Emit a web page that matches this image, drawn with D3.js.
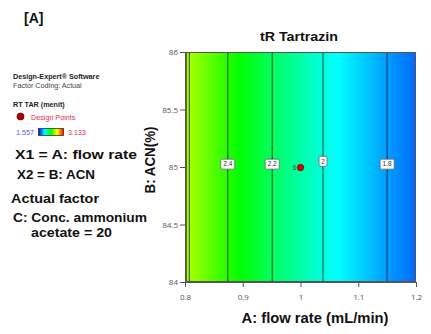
<!DOCTYPE html>
<html><head><meta charset="utf-8">
<script src="https://cdn.jsdelivr.net/npm/d3@7"></script>
<style>body{margin:0;background:#fff}svg{display:block}</style>
</head><body>
<svg id="c" width="431" height="334"></svg>
<script>
// ---- data ----
const xTicks = [0.8, 0.9, 1, 1.1, 1.2];
const yTicks = [84, 84.5, 85, 85.5, 86];
// response (RT, min) read along the flow-rate axis (independent of ACN)
const flowSamples = [0.8, 0.8075, 0.874, 0.951, 1.039, 1.15, 1.2];
const rtSamples   = [2.63, 2.6, 2.4, 2.2, 2.0, 1.8, 1.72];
// contour lines
const contourLevels = [2.6, 2.4, 2.2, 2.0, 1.8];
const contourX      = [0.8075, 0.874, 0.951, 1.039, 1.15];
const contourLabels = ["", "2.4", "2.2", "2", "1.8"];
const labelY        = [null, 85.025, 85.025, 85.05, 85.025];
// design point
const designX = [1.0], designY = [84.995], designCount = ["6"];
const rtMin = 1.557, rtMax = 3.133;

const svg = d3.select("#c");
const m = {l:185, r:416, t:52, b:282};
const x = d3.scaleLinear().domain([0.8, 1.2]).range([m.l, m.r]);
const y = d3.scaleLinear().domain([84, 86]).range([m.b, m.t]);
const col = d3.scaleLinear()
  .domain([rtMin, rtMin+(rtMax-rtMin)*0.25, rtMin+(rtMax-rtMin)*0.5, rtMin+(rtMax-rtMin)*0.75, rtMax])
  .range(["#0000ff", "#00ffff", "#00ff00", "#ffff00", "#ff0000"])
  .interpolate(d3.interpolateRgb);

const defs = svg.append("defs");
const g1 = defs.append("linearGradient").attr("id","fill").attr("x1","0").attr("x2","1").attr("y1","0").attr("y2","0");
flowSamples.forEach((f,i) => {
  g1.append("stop").attr("offset", (f-0.8)/0.4).attr("stop-color", col(rtSamples[i]));
  if (i < flowSamples.length-1) {
    for (let k=1;k<4;k++){
      const t=k/4;
      const ff=f+(flowSamples[i+1]-f)*t, vv=rtSamples[i]+(rtSamples[i+1]-rtSamples[i])*t;
      g1.append("stop").attr("offset",(ff-0.8)/0.4).attr("stop-color",col(vv));
    }
  }
});
svg.append("rect").attr("x",m.l).attr("y",m.t).attr("width",m.r-m.l).attr("height",m.b-m.t).attr("fill","url(#fill)");

// contours
svg.selectAll("line.ct").data(contourX).join("line").attr("class","ct")
  .attr("x1",d=>x(d)).attr("x2",d=>x(d)).attr("y1",m.t).attr("y2",m.b)
  .attr("stroke","#000").attr("stroke-opacity",0.65).attr("stroke-width",1.1);

// frame
svg.append("rect").attr("x",m.l+0.5).attr("y",m.t+0.5).attr("width",m.r-m.l-1).attr("height",m.b-m.t-1)
  .attr("fill","none").attr("stroke","#555").attr("stroke-width",1);
svg.append("line").attr("x1",m.l+1).attr("x2",m.l+1).attr("y1",m.t).attr("y2",m.b).attr("stroke","#556b2f").attr("stroke-width",2);

// contour labels
const lab = svg.selectAll("g.lab").data(contourLabels.map((t,i)=>({t,x:contourX[i],y:labelY[i]})).filter(d=>d.t)).join("g")
  .attr("transform",d=>`translate(${x(d.x)},${y(d.y)})`);
lab.append("rect").attr("x",d=>d.t.length>1?-7:-4).attr("y",-5).attr("width",d=>d.t.length>1?14:8).attr("height",10)
  .attr("fill","#fff").attr("stroke","#666").attr("stroke-width",0.8).attr("rx",1);
lab.append("text").attr("text-anchor","middle").attr("dy","0.35em").attr("font-size",6.5)
  .attr("font-family","Liberation Sans, Arial, sans-serif").attr("fill","#333").text(d=>d.t);

// design point
svg.selectAll("circle.dp").data(designX).join("circle").attr("class","dp")
  .attr("cx",d=>x(d)).attr("cy",(d,i)=>y(designY[i])).attr("r",3.3)
  .attr("fill","#d00000").attr("stroke","#700").attr("stroke-width",0.6);
svg.selectAll("text.dpn").data(designX).join("text").attr("class","dpn")
  .attr("x",d=>x(d)-6).attr("y",(d,i)=>y(designY[i])).attr("dy","0.35em").attr("text-anchor","middle")
  .attr("font-size",6.5).attr("fill","#444").attr("font-family","Liberation Sans, Arial, sans-serif")
  .text((d,i)=>designCount[i]);

// axes
const ff = "Open Sans, Liberation Sans, Arial, sans-serif";
const xa = svg.append("g").attr("transform",`translate(0,${m.b})`)
  .call(d3.axisBottom(x).tickValues(xTicks).tickFormat(d3.format("~g")).tickSizeInner(5).tickSizeOuter(0));
const ya = svg.append("g").attr("transform",`translate(${m.l},0)`)
  .call(d3.axisLeft(y).tickValues(yTicks).tickFormat(d3.format("~g")).tickSizeInner(5).tickSizeOuter(0));
[xa,ya].forEach(a=>{
  a.select(".domain").attr("stroke","#555");
  a.selectAll(".tick line").attr("stroke","#555");
  a.selectAll("text").attr("font-size",8).attr("fill","#555").attr("font-family",ff);
});
xa.selectAll("text").attr("y",12);
ya.selectAll("text").attr("x",-7);

// titles
const bf = "Liberation Sans, Arial, sans-serif";
svg.append("text").attr("x",299).attr("y",41).attr("text-anchor","middle").attr("font-family",bf)
  .attr("font-weight","bold").attr("font-size",13).attr("fill","#111")
  .attr("textLength",78).attr("lengthAdjust","spacingAndGlyphs").text("tR Tartrazin");
svg.append("text").attr("x",315).attr("y",323).attr("text-anchor","middle").attr("font-family",bf)
  .attr("font-weight","bold").attr("font-size",14).attr("fill","#111")
  .attr("textLength",147).attr("lengthAdjust","spacingAndGlyphs").text("A: flow rate (mL/min)");
svg.append("text").attr("transform","translate(155,160) rotate(-90)").attr("text-anchor","middle").attr("font-family",bf)
  .attr("font-weight","bold").attr("font-size",14).attr("fill","#111")
  .attr("textLength",67).attr("lengthAdjust","spacingAndGlyphs").text("B: ACN(%)");

// left panel
svg.append("text").attr("x",24).attr("y",23).attr("font-family",bf).attr("font-weight","bold").attr("font-size",14).attr("fill","#111").text("[A]");
const sf = "Liberation Sans, Arial, sans-serif";
svg.append("text").attr("x",13).attr("y",79).attr("font-family",sf).attr("font-weight","bold").attr("font-size",7.2).attr("fill","#222").text("Design-Expert® Software");
svg.append("text").attr("x",13).attr("y",88).attr("font-family",sf).attr("font-size",7.2).attr("fill","#444").text("Factor Coding: Actual");
svg.append("text").attr("x",13).attr("y",107).attr("font-family",sf).attr("font-weight","bold").attr("font-size",7.2).attr("fill","#222").text("RT TAR (menit)");
svg.append("circle").attr("cx",20.5).attr("cy",116.5).attr("r",3.5).attr("fill","#c00000").attr("stroke","#400").attr("stroke-width",0.8);
svg.append("text").attr("x",31).attr("y",119.5).attr("font-family",sf).attr("font-size",7.2).attr("fill","#e0304a").text("Design Points");
const g2 = defs.append("linearGradient").attr("id","bar");
col.domain().forEach((v,i)=>g2.append("stop").attr("offset",i/4).attr("stop-color",col(v)));
svg.append("text").attr("x",16).attr("y",134.5).attr("font-family",sf).attr("font-size",7.2).attr("fill","#5a5aff").text(rtMin);
svg.append("rect").attr("x",38.5).attr("y",128.5).attr("width",25).attr("height",7).attr("fill","url(#bar)").attr("stroke","#333").attr("stroke-width",0.8);
svg.append("text").attr("x",68).attr("y",134.5).attr("font-family",sf).attr("font-size",7.2).attr("fill","#e0304a").text(rtMax);

const big = [["X1 = A: flow rate",15,158.5,122],["X2 = B: ACN",17,178.5,78],["Actual factor",11,203,88],["C: Conc. ammonium",13,221.5,134],["acetate = 20",31,237,81]];
svg.selectAll("text.big").data(big).join("text").attr("class","big")
  .attr("x",d=>d[1]).attr("y",d=>d[2]).attr("font-family",bf).attr("font-weight","bold").attr("font-size",13.5).attr("fill","#111")
  .attr("textLength",d=>d[3]).attr("lengthAdjust","spacingAndGlyphs").text(d=>d[0]);
</script>
</body></html>
